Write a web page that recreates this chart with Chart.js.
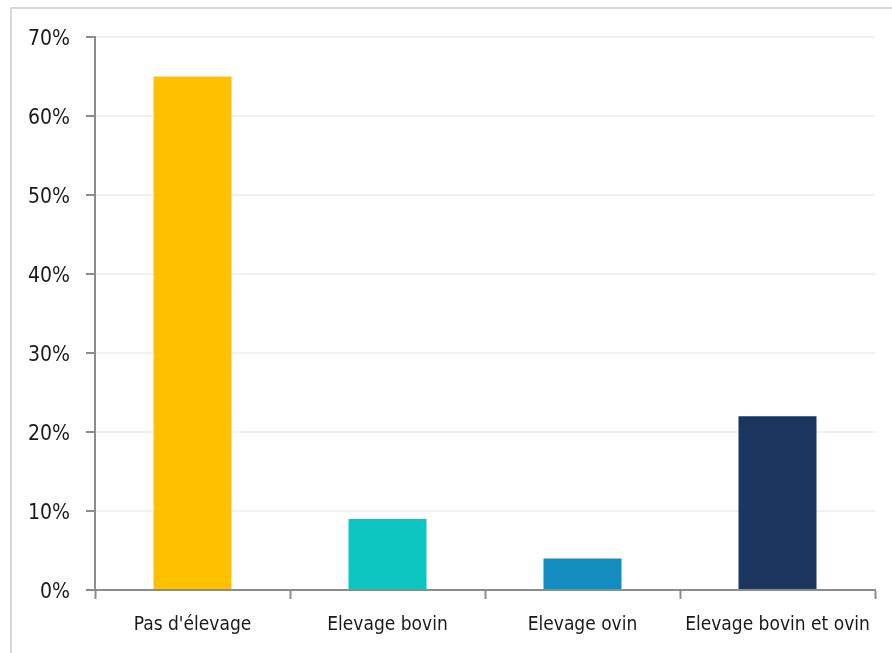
<!DOCTYPE html>
<html>
<head>
<meta charset="utf-8">
<script src="https://cdn.jsdelivr.net/npm/chart.js@4"></script>
<style>
    html, body { margin: 0; padding: 0; background: #fff; overflow: hidden; }
    #frame {
        position: absolute; left: 10px; top: 7px;
        width: 900px; height: 670px;
        border: 2px solid #d9d9d9; box-sizing: border-box;
    }
    #wrap { position: absolute; left: 0; top: 0; width: 892px; height: 653px; }
</style>
</head>
<body>
<div id="frame"></div>
<div id="wrap"><canvas id="chart" width="892" height="653"></canvas></div>
<script>
// Chart data
const categories = ["Pas d'élevage", "Elevage bovin", "Elevage ovin", "Elevage bovin et ovin"];
const shares = [65, 9, 4, 22];
const barColors = ['#FFC000', '#0CC5C0', '#138CBF', '#1A365E'];
const yTicks = [0, 10, 20, 30, 40, 50, 60, 70];

document.addEventListener("DOMContentLoaded", function() {
    const family = "'DejaVu Sans Condensed', 'Liberation Sans Narrow', sans-serif";

    new Chart(document.getElementById('chart').getContext('2d'), {
        type: 'bar',
        data: {
            labels: categories,
            datasets: [{
                data: shares,
                backgroundColor: barColors,
                barPercentage: 1,
                categoryPercentage: 0.4
            }]
        },
        options: {
            responsive: false,
            animation: false,
            layout: { padding: { top: 37, right: 17, left: 0, bottom: 0 } },
            plugins: { legend: { display: false }, tooltip: { enabled: false } },
            scales: {
                x: {
                    grid: {
                        offset: true,
                        drawOnChartArea: false,
                        tickLength: 9,
                        tickColor: '#8c8c8c',
                        tickWidth: 2
                    },
                    border: { color: '#8c8c8c', width: 2 },
                    ticks: {
                        color: '#1a1a1a',
                        font: { family: family, size: 19 },
                        padding: 15,
                        maxRotation: 0,
                        autoSkip: false
                    },
                    afterFit: function(scale) { scale.height = 63; }
                },
                y: {
                    min: 0,
                    max: 70,
                    afterBuildTicks: function(scale) {
                        scale.ticks = yTicks.map(v => ({ value: v }));
                    },
                    grid: {
                        color: '#f0f0f0',
                        lineWidth: 2,
                        tickLength: 9,
                        tickColor: '#8c8c8c',
                        tickWidth: 2
                    },
                    border: { color: '#8c8c8c', width: 2 },
                    ticks: {
                        color: '#1a1a1a',
                        font: { family: family, size: 21 },
                        padding: 16,
                        labelOffset: 3,
                        callback: v => v + '%'
                    },
                    afterFit: function(scale) { scale.width = 95; }
                }
            }
        }
    });
});
</script>
</body>
</html>
